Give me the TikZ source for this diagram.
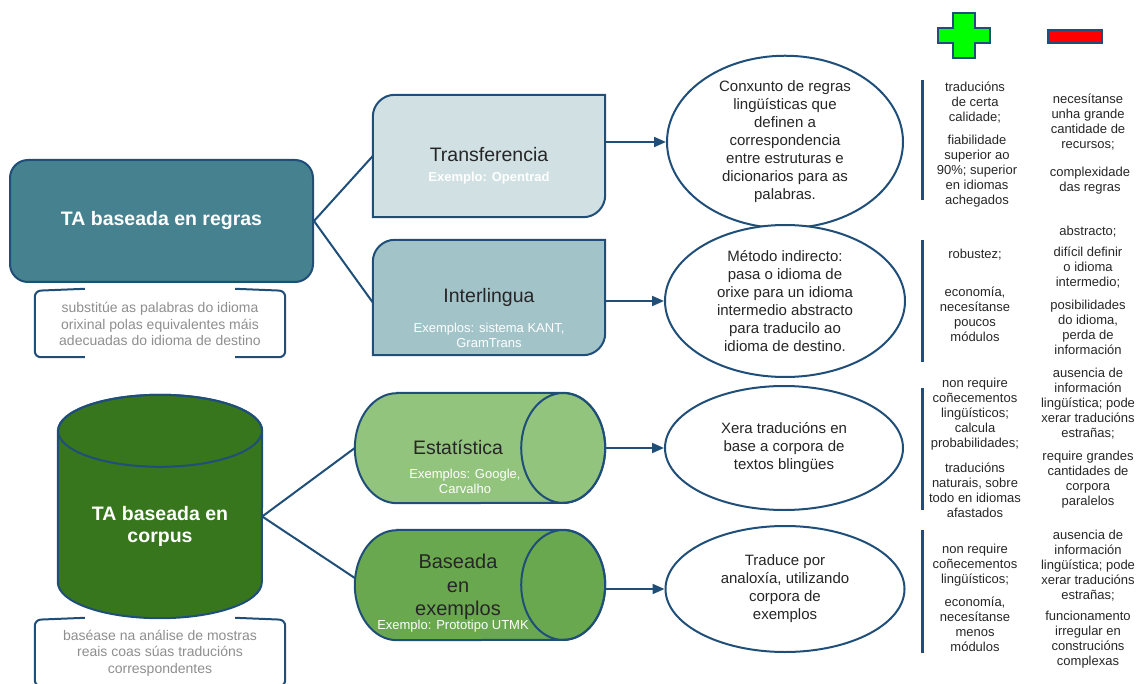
\documentclass[tikz,border=0pt]{standalone}
\usepackage{fontspec}
\setmainfont{Liberation Sans}
\usetikzlibrary{arrows.meta,shapes.geometric}
\definecolor{edgeblue}{HTML}{1F4E79}
\definecolor{regrasfill}{HTML}{45818E}
\definecolor{transfill}{HTML}{D0E0E3}
\definecolor{interfill}{HTML}{A2C4C9}
\definecolor{corpusfill}{HTML}{38761D}
\definecolor{estatfill}{HTML}{93C47D}
\definecolor{exemfill}{HTML}{6AA84F}
\definecolor{plusgreen}{HTML}{00FF00}
\definecolor{minusred}{HTML}{FF0000}
\definecolor{notegrey}{HTML}{8E8E8E}
\definecolor{textdark}{HTML}{262626}
\tikzset{
  box/.style={draw=edgeblue, line width=2pt},
  slot/.style={rectangle, inner sep=0pt},
  link/.style={draw=edgeblue, line width=2pt},
  flow/.style={link, -{Triangle[length=12pt,width=10pt]}},
  rule/.style={draw=edgeblue, line width=3pt},
  title/.style={align=center, text=textdark, font=\fontsize{19.5}{24}\selectfont},
  mainlabel/.style={align=center, text=white, font=\fontsize{19.5}{22}\selectfont\bfseries},
  example/.style={align=center, text=white, font=\fontsize{13}{15}\selectfont},
  idea/.style={ellipse, box, fill=white, align=center, inner sep=0pt, text=textdark,
    font=\fontsize{15}{18}\selectfont},
  note/.style={slot, minimum width=250pt, minimum height=66pt, align=center, text=notegrey,
    font=\fontsize{14}{16.5}\selectfont},
  pro/.style={align=center, inner sep=0pt, text=textdark, font=\fontsize{13}{15}\selectfont},
}
% box with two rounded corners
\newcommand{\tabbox}[2]{%
  \draw[box, fill=#2] (#1.south west) -- ([yshift=-22pt]#1.north west)
    arc[start angle=180, end angle=90, radius=22pt] -- (#1.north east)
    -- ([yshift=22pt]#1.south east) arc[start angle=0, end angle=-90, radius=22pt] -- cycle;}
% lying cylinder
\newcommand{\drum}[2]{%
  \draw[box, fill=#2] ([xshift=42pt]#1.north west) -- ([xshift=-42pt]#1.north east)
    arc[start angle=90, end angle=-90, x radius=42pt, y radius=55pt]
    -- ([xshift=42pt]#1.south west)
    arc[start angle=270, end angle=90, x radius=42pt, y radius=55pt] -- cycle;
  \draw[box] ([xshift=-42pt]#1.east) ellipse[x radius=42pt, y radius=55pt];}
% brackets round a note
\newcommand{\braces}[1]{%
  \draw[link, rounded corners=6pt] ([xshift=50pt,yshift=2pt]#1.north west) -- (#1.north west)
    -- (#1.south west) -- ([xshift=50pt]#1.south west);
  \draw[link, rounded corners=6pt] ([xshift=-50pt,yshift=2pt]#1.north east) -- (#1.north east)
    -- (#1.south east) -- ([xshift=-50pt]#1.south east);}
\begin{document}
\begin{tikzpicture}[x=1pt, y=1pt]
  \useasboundingbox (0,0) rectangle (1140,-684);
  % rules
  \node[rectangle, rounded corners=18pt, box, fill=regrasfill, minimum width=303pt,
    minimum height=122pt, mainlabel] (regras) at (161.5,-221) {TA baseada en regras};
  \node[note] (regrasnota) at (160,-324)
    {substitúe as palabras do idioma\\orixinal polas equivalentes máis\\adecuadas do idioma de destino};
  \braces{regrasnota}

  \node[slot, minimum width=232pt, minimum height=122pt] (trans) at (489,-156) {};
  \tabbox{trans}{transfill}
  \node[title] (transname) at (489,-155) {Transferencia};
  \node[example, font=\fontsize{13}{15}\selectfont\bfseries] (transex) at (489,-178) {Exemplo: Opentrad};

  \node[slot, minimum width=232pt, minimum height=115pt] (inter) at (489,-297.5) {};
  \tabbox{inter}{interfill}
  \node[title] (intername) at (489,-297) {Interlingua};
  \node[example] (interex) at (489,-335) {Exemplos: sistema KANT,\\GramTrans};

  % corpus
  \node[slot, minimum width=204pt, minimum height=223pt] (corpus) at (160,-506.5) {};
  \draw[box, fill=corpusfill] ([yshift=-36pt]corpus.north west) -- ([yshift=36pt]corpus.south west)
    arc[start angle=180, end angle=360, x radius=102pt, y radius=36pt]
    -- ([yshift=-36pt]corpus.north east)
    arc[start angle=0, end angle=180, x radius=102pt, y radius=36pt] -- cycle;
  \draw[box] ([yshift=-36pt]corpus.north) ellipse[x radius=102pt, y radius=36pt];
  \node[mainlabel] (corpusname) at (160,-526) {TA baseada en\\corpus};
  \node[note] (corpusnota) at (160,-653)
    {baséase na análise de mostras\\reais coas súas traducións\\correspondentes};
  \braces{corpusnota}

  \node[slot, minimum width=250pt, minimum height=110pt] (estat) at (480,-448) {};
  \drum{estat}{estatfill}
  \node[title] (estatname) at (458,-447) {Estatística};
  \node[example] (estatex) at (465,-481) {Exemplos: Google,\\Carvalho};

  \node[slot, minimum width=250pt, minimum height=110pt] (exem) at (480,-585) {};
  \drum{exem}{exemfill}
  \node[title, font=\fontsize{20}{23.5}\selectfont] (exemname) at (458,-587) {Baseada\\en\\exemplos};
  \node[example] (exemex) at (453,-626) {Exemplo: Prototipo UTMK};

  % descriptions
  \node[idea, minimum width=236pt, minimum height=154pt] (e1) at (785,-142)
    {Conxunto de regras\\lingüísticas que\\definen a\\correspondencia\\entre estruturas e\\dicionarios para as\\palabras.};
  \node[idea, minimum width=240pt, minimum height=152pt] (e2) at (785,-301)
    {Método indirecto:\\pasa o idioma de\\orixe para un idioma\\intermedio abstracto\\para traducilo ao\\idioma de destino.};
  \node[idea, minimum width=238pt, minimum height=124pt] (e3) at (784,-448)
    {Xera traducións en\\base a corpora de\\textos blingües};
  \node[idea, minimum width=239pt, minimum height=126pt] (e4) at (785,-589)
    {Traduce por\\analoxía, utilizando\\corpora de\\exemplos};

  \begin{scope}
    \draw[link] (regras.east) -- (trans.west);
    \draw[link] (regras.east) -- ([yshift=-5pt]inter.west);
    \draw[link] ([yshift=-10pt]corpus.east) -- (estat.west);
    \draw[link] ([yshift=-10pt]corpus.east) -- ([yshift=7pt]exem.west);
    \draw[flow] (e1.west -| trans.east) -- (e1.west);
    \draw[flow] (e2.west -| inter.east) -- (e2.west);
    \draw[flow] (estat.east) -- (e3.west);
    \draw[flow] (e4.west -| exem.east) -- (e4.west);
  \end{scope}

  % plus and minus
  \draw[box, line width=1.5pt, fill=plusgreen] (953,-13) -- (975,-13) -- (975,-28) -- (990,-28)
    -- (990,-43) -- (975,-43) -- (975,-58) -- (953,-58) -- (953,-43) -- (938,-43)
    -- (938,-28) -- (953,-28) -- cycle;
  \draw[box, line width=1.5pt, fill=minusred] (1048,-30) rectangle (1102,-43);
  \foreach \top/\bot in {80/200, 240/362, 388/510, 530/653}
    \draw[rule] (922,-\top) -- (922,-\bot);

  \node[pro] (p1a) at (975,-103) {traducións\\de certa\\calidade;};
  \node[pro] (p1b) at (977,-171) {fiabilidade\\superior ao\\90\%; superior\\en idiomas\\achegados};
  \node[pro] (m1a) at (1088,-122.5) {necesítanse\\unha grande\\cantidade de\\recursos;};
  \node[pro] (m1b) at (1090,-180.5) {complexidade\\das regras};

  \node[pro] (p2a) at (975,-255) {robustez;};
  \node[pro] (p2b) at (975,-314.5) {economía,\\necesítanse\\poucos\\módulos};
  \node[pro] (m2a) at (1088,-232) {abstracto;};
  \node[pro] (m2b) at (1088,-268) {difícil definir\\o idioma\\intermedio;};
  \node[pro] (m2c) at (1088,-327.5) {posibilidades\\do idioma,\\perda de\\información};

  \node[pro] (p3a) at (975,-414.5) {non require\\coñecementos\\lingüísticos;\\calcula\\probabilidades;};
  \node[pro] (p3b) at (975,-490.5) {traducións\\naturais, sobre\\todo en idiomas\\afastados};
  \node[pro] (m3a) at (1088,-403.5) {ausencia de\\información\\lingüística; pode\\xerar traducións\\estrañas;};
  \node[pro] (m3b) at (1088,-479.5) {require grandes\\cantidades de\\corpora\\paralelos};

  \node[pro] (p4a) at (975,-565) {non require\\coñecementos\\lingüísticos;};
  \node[pro] (p4b) at (975,-624.5) {economía,\\necesítanse\\menos\\módulos};
  \node[pro] (m4a) at (1088,-565.5) {ausencia de\\información\\lingüística; pode\\xerar traducións\\estrañas;};
  \node[pro] (m4b) at (1088,-639.5) {funcionamento\\irregular en\\construcións\\complexas};
\end{tikzpicture}
\end{document}
